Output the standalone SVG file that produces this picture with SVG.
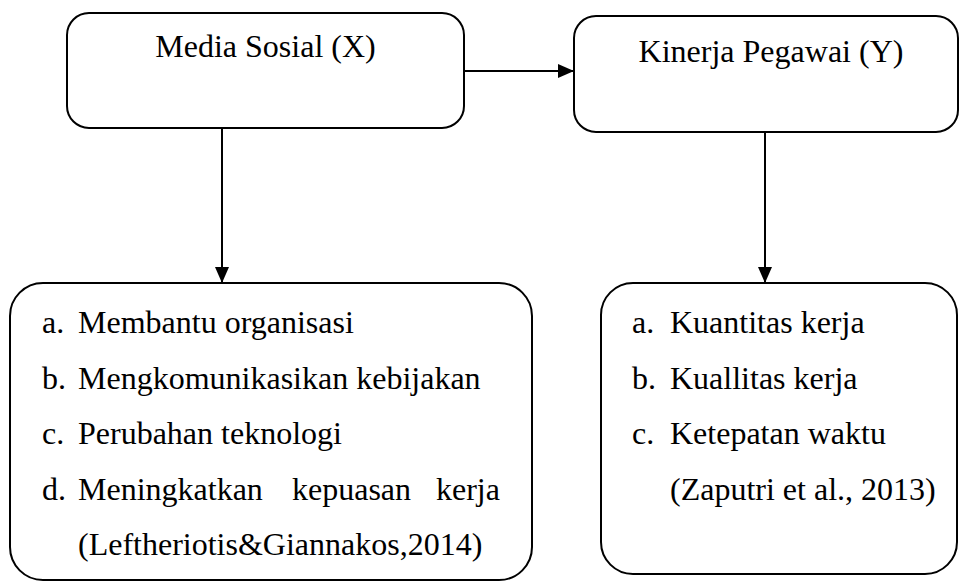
<svg xmlns="http://www.w3.org/2000/svg" width="960" height="582" viewBox="0 0 960 582">
<defs>
<style>
.box{fill:#fff;stroke:#000;stroke-width:2}
.t{font-family:"Liberation Serif","Times New Roman",serif;font-size:32px;fill:#000}
.c{text-anchor:middle}
.ln{stroke:#000;stroke-width:2;fill:none}
</style>
<marker id="ah" markerUnits="userSpaceOnUse" markerWidth="16" markerHeight="14" refX="16" refY="7" orient="auto">
<path d="M0,0 L16,7 L0,14 z" fill="#000"/>
</marker>
</defs>
<rect width="960" height="582" fill="#fff"/>
<g id="connectors">
<line class="ln" x1="464" y1="71" x2="574" y2="71" marker-end="url(#ah)"/>
<line class="ln" x1="222" y1="128" x2="222" y2="283" marker-end="url(#ah)"/>
<line class="ln" x1="765" y1="132" x2="765" y2="283" marker-end="url(#ah)"/>
</g>
<g id="media-sosial">
<rect class="box" x="67" y="13" width="397" height="115" rx="22" ry="22"/>
<text class="t c" x="265.5" y="57">Media Sosial (X)</text>
</g>
<g id="kinerja-pegawai">
<rect class="box" x="574" y="16" width="384" height="116" rx="22" ry="22"/>
<text class="t c" x="771" y="62">Kinerja Pegawai (Y)</text>
</g>
<g id="indikator-x">
<rect class="box" x="10" y="283" width="522" height="297" rx="33" ry="33"/>
<text class="t" x="42" y="333">a.</text><text class="t" x="78" y="333">Membantu organisasi</text>
<text class="t" x="42" y="388.5">b.</text><text class="t" x="78" y="388.5">Mengkomunikasikan kebijakan</text>
<text class="t" x="42" y="444">c.</text><text class="t" x="78" y="444">Perubahan teknologi</text>
<text class="t" x="42" y="499.5">d.</text><text class="t" x="78" y="499.5">Meningkatkan</text><text class="t" x="292" y="499.5">kepuasan</text><text class="t" x="436" y="499.5">kerja</text>
<text class="t" x="78" y="555">(Leftheriotis&amp;Giannakos,2014)</text>
</g>
<g id="indikator-y">
<rect class="box" x="601" y="283" width="356" height="291" rx="32" ry="32"/>
<text class="t" x="632" y="333">a.</text><text class="t" x="670" y="333">Kuantitas kerja</text>
<text class="t" x="632" y="388.5">b.</text><text class="t" x="670" y="388.5">Kuallitas kerja</text>
<text class="t" x="632" y="444">c.</text><text class="t" x="670" y="444">Ketepatan waktu</text>
<text class="t" x="670" y="499.5">(Zaputri et al., 2013)</text>
</g>
</svg>
